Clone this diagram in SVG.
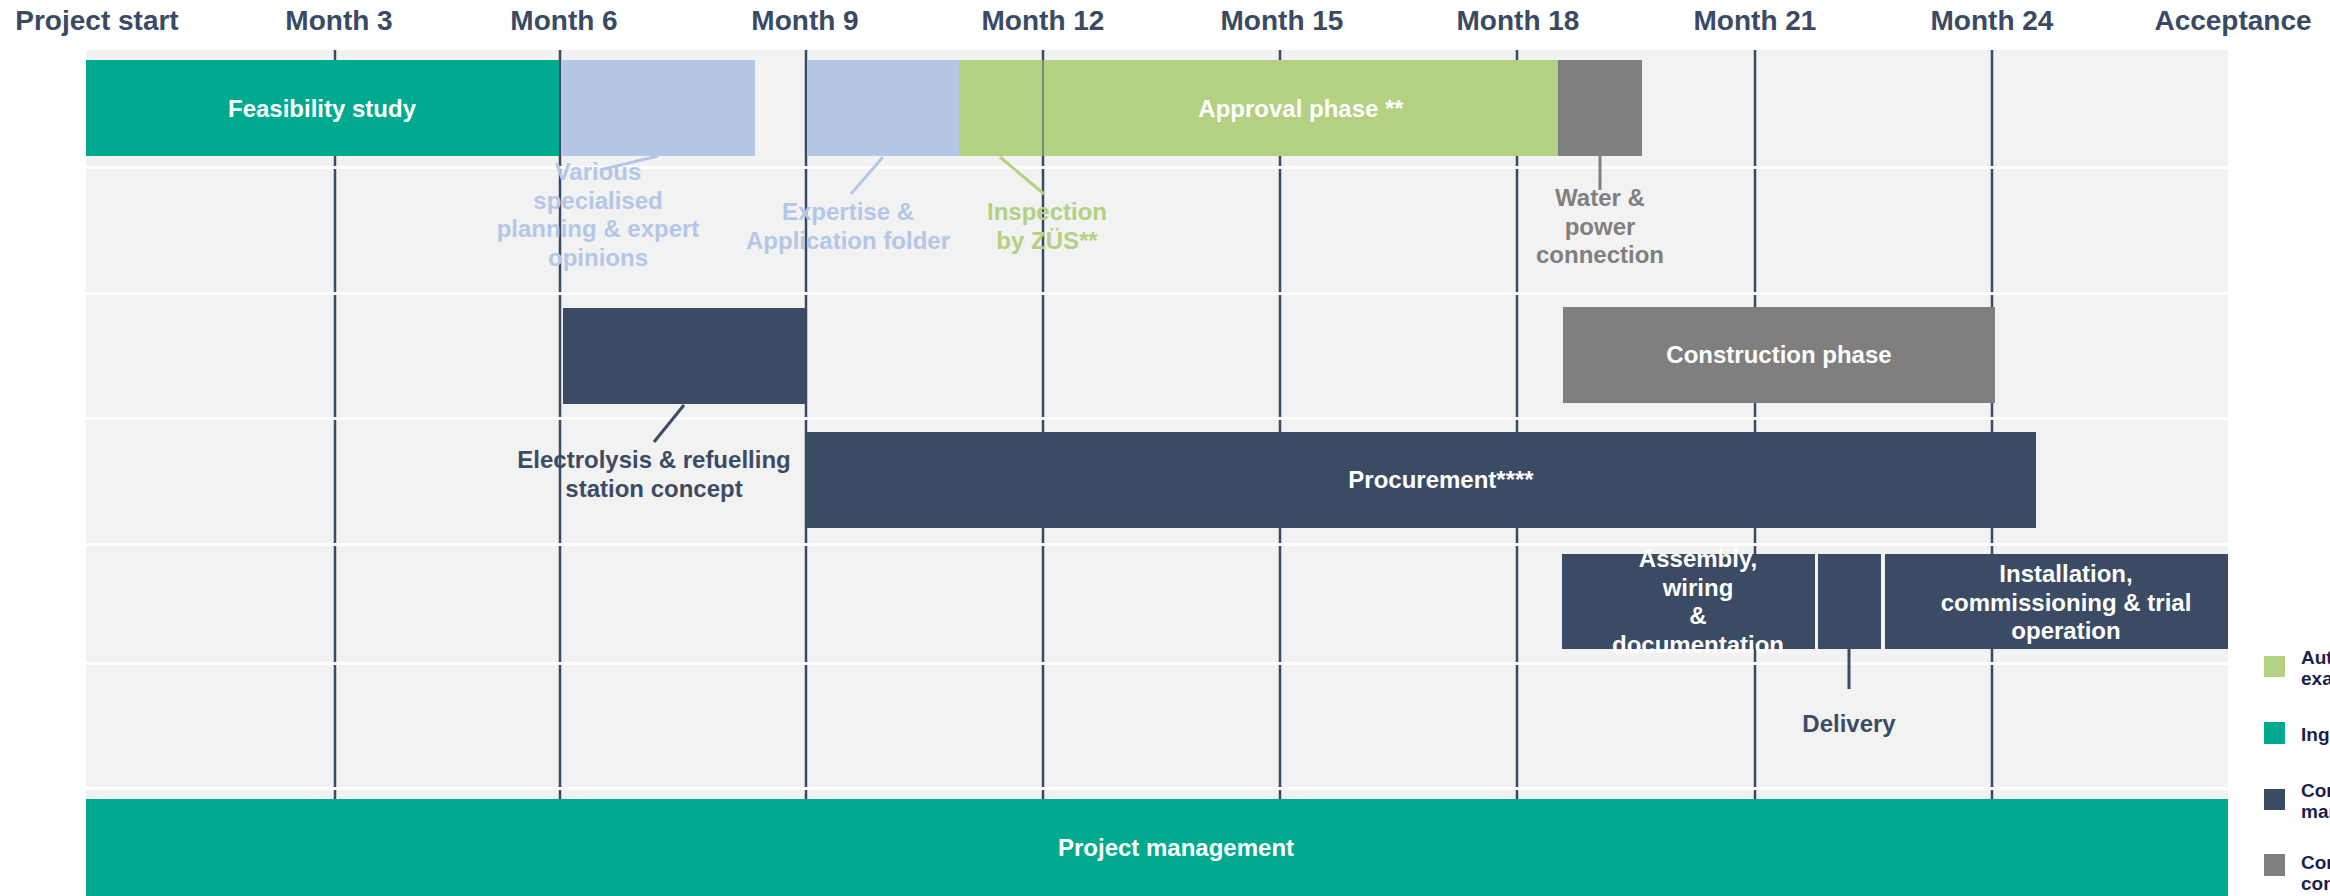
<svg xmlns="http://www.w3.org/2000/svg" width="2330" height="896" viewBox="0 0 2330 896">
<style>
text{font-family:"Liberation Sans",Arial,sans-serif;font-weight:bold}
.hdr{font-size:28px;fill:#3b4a63;text-anchor:middle}
.bt{font-size:24px;fill:#ffffff;text-anchor:middle}
.lb{font-size:24px;text-anchor:middle}
.grid{stroke:#3b4a63;stroke-width:2.5}
.sep{fill:#ffffff}
.teal{fill:#00aa8f}
.navy{fill:#3c4b64}
.gray{fill:#7f7f7f}
.lblue{fill:#b4c7e7}
.lgreen{fill:#b3d083}
.lg{font-size:19px;fill:#1b1f4b}
</style>
<g id="background">
<rect x="86" y="50" width="2142" height="846" fill="#f2f2f2"/>
</g>
<g id="grid">
<line class="grid" x1="335" y1="50" x2="335" y2="896"/>
<line class="grid" x1="560" y1="50" x2="560" y2="896"/>
<line class="grid" x1="806" y1="50" x2="806" y2="896"/>
<line class="grid" x1="1043" y1="50" x2="1043" y2="896"/>
<line class="grid" x1="1280" y1="50" x2="1280" y2="896"/>
<line class="grid" x1="1517" y1="50" x2="1517" y2="896"/>
<line class="grid" x1="1755" y1="50" x2="1755" y2="896"/>
<line class="grid" x1="1992" y1="50" x2="1992" y2="896"/>
<rect class="sep" x="86" y="166" width="2142" height="3"/>
<rect class="sep" x="86" y="292" width="2142" height="3"/>
<rect class="sep" x="86" y="417" width="2142" height="3"/>
<rect class="sep" x="86" y="543" width="2142" height="3"/>
<rect class="sep" x="86" y="662" width="2142" height="3"/>
<rect class="sep" x="86" y="787" width="2142" height="3"/>
</g>
<g id="header">
<text class="hdr" x="97" y="30">Project start</text>
<text class="hdr" x="339" y="30">Month 3</text>
<text class="hdr" x="564" y="30">Month 6</text>
<text class="hdr" x="805" y="30">Month 9</text>
<text class="hdr" x="1043" y="30">Month 12</text>
<text class="hdr" x="1282" y="30">Month 15</text>
<text class="hdr" x="1518" y="30">Month 18</text>
<text class="hdr" x="1755" y="30">Month 21</text>
<text class="hdr" x="1992" y="30">Month 24</text>
<text class="hdr" x="2233" y="30">Acceptance</text>
</g>
<g id="feasibility">
<rect class="teal" x="86" y="60" width="473" height="96"/>
<text class="bt" x="322" y="117">Feasibility study</text>
</g>
<g id="various">
<rect class="lblue" x="561.5" y="60" width="193.5" height="96"/>
<text class="lb" fill="#b4c7e7" x="598" y="180">Various</text>
<text class="lb" fill="#b4c7e7" x="598" y="208.5">specialised</text>
<text class="lb" fill="#b4c7e7" x="598" y="237">planning &amp; expert</text>
<text class="lb" fill="#b4c7e7" x="598" y="265.5">opinions</text>
</g>
<g id="expertise">
<rect class="lblue" x="807" y="60" width="152" height="96"/>
<text class="lb" fill="#b4c7e7" x="848" y="220">Expertise &amp;</text>
<text class="lb" fill="#b4c7e7" x="848" y="249">Application folder</text>
</g>
<g id="inspection">
<text class="lb" fill="#b3d083" x="1047" y="220">Inspection</text>
<text class="lb" fill="#b3d083" x="1047" y="249">by ZÜS**</text>
</g>
<g id="approval">
<rect class="lgreen" x="959" y="60" width="599" height="96"/>
<line x1="1043" y1="60" x2="1043" y2="156" stroke="#3b4a63" stroke-width="1"/>
<text class="bt" x="1301" y="117">Approval phase **</text>
</g>
<g id="water">
<rect class="gray" x="1558" y="60" width="84" height="96"/>
<text class="lb" fill="#7f7f7f" x="1600" y="206">Water &amp;</text>
<text class="lb" fill="#7f7f7f" x="1600" y="234.5">power</text>
<text class="lb" fill="#7f7f7f" x="1600" y="263">connection</text>
</g>
<g id="electrolysis">
<rect class="navy" x="563" y="308" width="242" height="96"/>
<text class="lb" fill="#3c4b64" x="654" y="468">Electrolysis &amp; refuelling</text>
<text class="lb" fill="#3c4b64" x="654" y="497">station concept</text>
</g>
<g id="construction">
<rect class="gray" x="1563" y="307" width="432" height="96"/>
<text class="bt" x="1779" y="363">Construction phase</text>
</g>
<g id="procurement">
<rect class="navy" x="807" y="432" width="1229" height="96"/>
<text class="bt" x="1441" y="488">Procurement****</text>
</g>
<g id="assembly">
<rect class="navy" x="1562" y="554" width="253" height="95"/>
<text class="bt" x="1698" y="567">Assembly,</text>
<text class="bt" x="1698" y="596">wiring</text>
<text class="bt" x="1698" y="624">&amp;</text>
<text class="bt" x="1698" y="653">documentation</text>
</g>
<g id="delivery">
<rect class="navy" x="1818" y="554" width="63" height="95"/>
<text class="lb" fill="#3c4b64" x="1849" y="732">Delivery</text>
</g>
<g id="installation">
<rect class="navy" x="1885" y="554" width="343" height="95"/>
<text class="bt" x="2066" y="582">Installation,</text>
<text class="bt" x="2066" y="610.5">commissioning &amp; trial</text>
<text class="bt" x="2066" y="639">operation</text>
</g>
<g id="project-management">
<rect class="teal" x="86" y="799" width="2142" height="97"/>
<text class="bt" x="1176" y="856">Project management</text>
</g>
<g id="connectors" stroke-width="3" fill="none">
<line x1="658" y1="156" x2="600" y2="170" stroke="#b4c7e7"/>
<line x1="883" y1="157" x2="851" y2="194" stroke="#b4c7e7"/>
<line x1="1000" y1="157" x2="1044" y2="194" stroke="#b3d083"/>
<line x1="1600" y1="156" x2="1600" y2="190" stroke="#7f7f7f"/>
<line x1="684" y1="405" x2="654" y2="442" stroke="#3c4b64"/>
<line x1="1849" y1="649" x2="1849" y2="689" stroke="#3c4b64"/>
</g>
<g id="legend">
<rect class="lgreen" x="2264" y="656" width="21" height="21"/>
<text class="lg" x="2301" y="663.5">Aut</text>
<text class="lg" x="2301" y="685">exa</text>
<rect class="teal" x="2264" y="722" width="21" height="22"/>
<text class="lg" x="2301" y="740.5">Ing</text>
<rect class="navy" x="2264" y="789" width="21" height="21"/>
<text class="lg" x="2301" y="796.5">Con</text>
<text class="lg" x="2301" y="818">mar</text>
<rect class="gray" x="2264" y="854" width="21" height="22"/>
<text class="lg" x="2301" y="869">Con</text>
<text class="lg" x="2301" y="890">com</text>
</g>
</svg>
